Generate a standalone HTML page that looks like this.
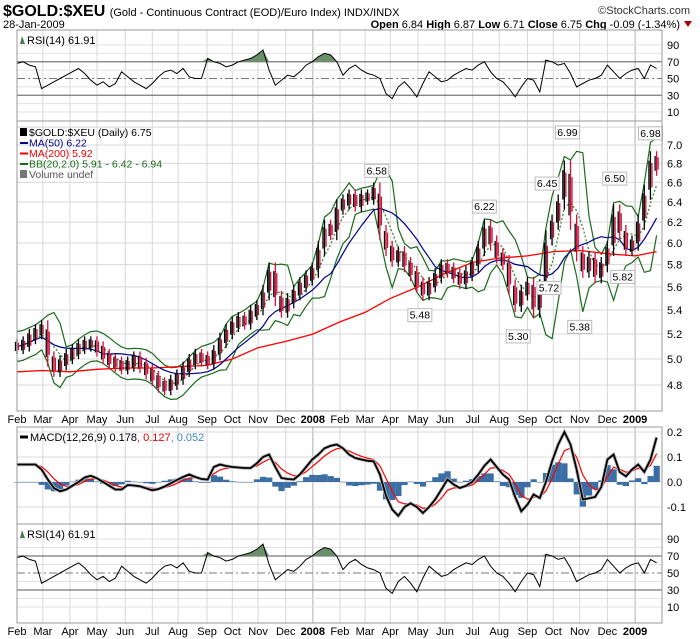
<!DOCTYPE html>
<html><head><meta charset="utf-8"><style>
body{margin:0;background:#fff;}
svg{display:block;font-family:"Liberation Sans",sans-serif;}
</style></head><body>
<svg id="c" width="700" height="639" viewBox="0 0 700 639" xmlns="http://www.w3.org/2000/svg">
<text x="3" y="16" font-size="16" font-weight="bold">$GOLD:$XEU <tspan font-size="11" font-weight="normal">(Gold - Continuous Contract (EOD)/Euro Index) INDX/INDX</tspan></text>
<text x="690" y="14" font-size="11" text-anchor="end" fill="#333">©StockCharts.com</text>
<text x="3" y="28" font-size="11">28-Jan-2009</text>
<text x="680" y="28" font-size="11" text-anchor="end"><tspan font-weight="bold">Open</tspan> 6.84 <tspan font-weight="bold">High</tspan> 6.87 <tspan font-weight="bold">Low</tspan> 6.71 <tspan font-weight="bold">Close</tspan> 6.75 <tspan font-weight="bold">Chg</tspan> -0.09 (-1.34%)</text>
<polygon points="684,21 692,21 688,27" fill="#a00"/>
<g id="layer"></g>
</svg>
<script>
const closes=[5.10,5.12,5.18,5.22,5.25, 5.00,4.92,4.97,5.02, 5.06,5.10,5.12,5.12, 5.08,5.02,4.98,4.96,4.94, 4.96,5.00,4.95,4.90, 4.85,4.80,4.78,4.82,4.86, 4.92,4.98,5.02,5.00, 4.98,5.05,5.15,5.22,5.28, 5.32,5.30,5.38,5.42, 5.55,5.75,5.50,5.40, 5.48,5.55,5.62,5.68,5.75, 5.95,6.15,6.10,6.35, 6.40,6.45,6.38,6.45, 6.45,6.52,6.10,5.95, 5.85,5.90,5.80,5.72,5.62, 5.55,5.62,5.70,5.78, 5.75,5.70,5.65,5.72,5.80, 5.95,6.15,6.00,5.88, 5.82,5.60,5.45,5.55,5.62, 5.40,5.60,6.05,6.20, 6.40,6.75,6.20,5.90, 5.75,5.85,5.70,5.80,5.95, 6.30,6.10,5.95,6.00, 6.20,6.50,6.85,6.75];
const ma200Weeks=[0,4.2,8.6,13,17.6,22,26.2,30.9,35,39.2,43.7,48.1,52.5,56.6,60.7,65.2,69.6,74.1,78.4,83,87.2,91.5,96,100.5,104];
const ma200Vals=[4.90,4.91,4.90,4.92,4.93,4.93,4.94,4.95,5.00,5.09,5.14,5.20,5.30,5.38,5.50,5.60,5.72,5.82,5.86,5.88,5.92,5.93,5.90,5.88,5.92];
const macdVals=[.07,.07,.07,.07,.05,.01,-.024,-.037,-.03,-.015,0,.018,.025,.015,0,-.015,-.03,-.03,-.012,-.014,-.017,-.025,-.033,-.028,-.018,-.005,.008,.02,.03,.02,.012,.01,.06,.07,.064,.06,.058,.056,.056,.075,.1,.11,.06,.016,.012,.01,.03,.06,.09,.11,.135,.145,.15,.135,.11,.096,.09,.085,.083,.03,-.055,-.11,-.135,-.1,-.085,-.1,-.124,-.1,-.07,-.03,.01,-.01,-.024,-.015,0,.03,.065,.09,.06,.03,.01,-.06,-.117,-.09,-.05,-.064,0,.083,.15,.2,.15,.05,-.07,-.065,-.06,-.02,.09,.11,.04,.023,.05,.07,.04,.09,.178];
const rsiVals=[68,70,66,64,38,42,46,50,54,58,62,56,48,42,46,40,44,58,52,46,42,38,44,52,58,60,56,62,52,50,50,74,70,68,64,66,70,72,74,78,84,60,42,48,54,52,58,66,70,76,80,78,70,54,62,66,60,56,54,50,32,26,40,46,38,28,44,58,52,46,48,54,58,62,60,66,70,58,50,46,38,28,40,50,48,34,72,70,66,68,56,40,44,48,50,54,66,58,50,56,60,62,50,66,62];
const monthWeeks=[0,4.2,8.6,13,17.6,22,26.2,30.9,35,39.2,43.7,48.1,52.5,56.6,60.7,65.2,69.6,74.1,78.4,83,87.2,91.5,96,100.5];
const monthLabels=["Feb","Mar","Apr","May","Jun","Jul","Aug","Sep","Oct","Nov","Dec","2008","Feb","Mar","Apr","May","Jun","Jul","Aug","Sep","Oct","Nov","Dec","2009"];
const priceTicks=[4.8,5.0,5.2,5.4,5.6,5.8,6.0,6.2,6.4,6.6,6.8,7.0];
const annWeeks=[58.5,65.5,76,81.5,86.5,86.2,89.5,91.5,97.2,98.5,103];
const annPrices=[6.58,5.48,6.22,5.30,5.72,6.45,6.99,5.38,6.50,5.82,6.98];
const annAbove=[1,0,1,0,0,1,1,0,1,0,1];
const macdTicks=[0.2,0.1,0.0,-0.1];
const rsiTicks=[90,70,50,30,10];

const L=17,R=662;
const P={rsi1:[30,121],main:[121,411],macd:[427,524],rsi2:[524,623]};
const xW=i=>L+i*6.15;
const yP=p=>145+636*Math.log(7/p);
const yM=v=>482-v*250;
const yR1=v=>45+(90-v)*0.8375;
const yR2=v=>539+(90-v)*0.85;
const NS="http://www.w3.org/2000/svg";
const layer=document.getElementById('layer');
function mk(t,a,parent){const e=document.createElementNS(NS,t);for(const k in a)e.setAttribute(k,a[k]);(parent||layer).appendChild(e);return e;}
function pathFrom(vals,xf,yf){return vals.map((v,i)=>(i?'L':'M')+xf(i).toFixed(1)+','+yf(v).toFixed(1)).join('');}

function panel(name,top,bot){
  const g=mk('g',{});
  
  
  mk('rect',{x:L,y:top,width:R-L,height:bot-top,fill:'#fff'},g);
  monthWeeks.forEach(w=>{const l=mk('line',{x1:xW(w),x2:xW(w),y1:top,y2:bot,stroke:(w==48.1||w==100.5)?'#b0b0b0':'#d8d8d8','stroke-width':1},g);});
  return g;
}
function frame(top,bot,name){const r=mk('rect',{x:L,y:top,width:R-L,height:bot-top,fill:'none',stroke:'#999'});}
function xLabels(y,name){const g=mk('g',{'font-size':11,'text-anchor':'middle'});
  monthWeeks.forEach((w,i)=>{const t=mk('text',{x:Math.max(xW(w),13),y:y,'font-weight':monthLabels[i].length==4?'bold':'normal'},g);t.textContent=monthLabels[i];});}

function rsiPanel(name,top,bot,yf){
  const g=panel(name,top,bot);
  [90,80,60,40,20,10].forEach(v=>mk('line',{x1:L,x2:R,y1:yf(v),y2:yf(v),stroke:'#e2e2e2'},g));
  [70,30].forEach(v=>mk('line',{x1:L,x2:R,y1:yf(v),y2:yf(v),stroke:'#777','stroke-width':1.3},g));
  mk('line',{x1:L,x2:R,y1:yf(50),y2:yf(50),stroke:'#777','stroke-dasharray':'8,3,2,3'},g);
  let fp='';
  for(let i=0;i<rsiVals.length-1;i++){const a=rsiVals[i],b=rsiVals[i+1];if(a>70||b>70){const x1=xW(i),x2=xW(i+1);const ca=Math.max(a,70),cb=Math.max(b,70);fp+=`M${x1},${yf(70)}L${x1},${yf(ca)}L${x2},${yf(cb)}L${x2},${yf(70)}Z`;}}
  const f=mk('path',{d:fp,fill:'#6b8f6b'},g);
  const ln=mk('path',{d:pathFrom(rsiVals,xW,yf),fill:'none',stroke:'#000','stroke-width':1},g);
  
  const tg=mk('g',{'font-size':11},g);
  rsiTicks.forEach(v=>{const t=mk('text',{x:667,y:yf(v)+4},tg);t.textContent=v;});
  mk('polygon',{points:`${20},${top+14} ${22},${top+6} ${25},${top+14}`,fill:'#4a7a4a'},g);
  const lb=mk('text',{x:27,y:top+14,'font-size':11},g);lb.textContent='RSI(14) 61.91';
  frame(top,bot,name);
}
rsiPanel('rsi-top',P.rsi1[0],P.rsi1[1],yR1);

(function(){
  const [top,bot]=P.main;
  const g=panel('price',top,bot);
  [4.6,4.8,5.0,5.2,5.4,5.6,5.8,6.0,6.2,6.4,6.6,6.8,7.0,7.2].forEach(p=>{const y=yP(p);if(y>top&&y<bot)mk('line',{x1:L,x2:R,y1:y,y2:y,stroke:'#d8d8d8'},g);});
  const tg=mk('g',{'font-size':11},g);
  priceTicks.forEach(p=>{const t=mk('text',{x:667,y:yP(p)+4},tg);t.textContent=p.toFixed(1);});
  const mid=[],up=[],lo=[],ma50=[];
  closes.forEach((c,i)=>{const w=closes.slice(Math.max(0,i-3),i+1);const m=w.reduce((a,b)=>a+b,0)/w.length;const sd=Math.sqrt(w.reduce((a,b)=>a+(b-m)*(b-m),0)/w.length);mid.push(m);up.push(m+2*Math.max(sd,0.06));lo.push(m-2*Math.max(sd,0.06));
    const w2=closes.slice(Math.max(0,i-9),i+1);ma50.push(w2.reduce((a,b)=>a+b,0)/w2.length);});
  const bu=mk('path',{d:pathFrom(up,xW,yP),fill:'none',stroke:'#1a6b1a','stroke-width':1.2},g);
  const bl=mk('path',{d:pathFrom(lo,xW,yP),fill:'none',stroke:'#1a6b1a','stroke-width':1.2},g);
  const bm=mk('path',{d:pathFrom(mid,xW,yP),fill:'none',stroke:'#3a8a3a','stroke-width':1.3,'stroke-dasharray':'2,2'},g);
  const m2=mk('path',{d:ma200Vals.map((v,i)=>(i?'L':'M')+xW(ma200Weeks[i]).toFixed(1)+','+yP(v).toFixed(1)).join(''),fill:'none',stroke:'#f00','stroke-width':1.3},g);
  const m5=mk('path',{d:pathFrom(ma50,xW,yP),fill:'none',stroke:'#00008b','stroke-width':1.2},g);
  const bg=mk('g',{},g);
  closes.forEach((c,i)=>{const o=i?closes[i-1]:c;const hi=Math.max(o,c)*1.012,lw=Math.min(o,c)*0.988;const x=xW(i);
    const col=c<o?'#d0103a':'#000';
    [[-1.5,'#000',0.2],[0,col,0],[1.5,'#d0103a',0.25]].forEach(([dx,cl,sh])=>{const b=mk('line',{x1:x+dx,x2:x+dx,y1:yP(hi-(hi-lw)*sh),y2:yP(lw+(hi-lw)*sh),stroke:cl,'stroke-width':1.3},bg);});
  });
  annWeeks.forEach((w,i)=>{const x=xW(w),p=annPrices[i];const y=annAbove[i]?yP(p)-12:yP(p)+16;
    const ag=mk('g',{},g);
    mk('rect',{x:x-12,y:y-8,width:24,height:13,fill:'#fff',stroke:'#bbb'},ag);
    const t=mk('text',{x:x,y:y+2,'font-size':10.5,'text-anchor':'middle'},ag);t.textContent=p.toFixed(2);});
  const lg=mk('g',{'font-size':10.5},g);
  const items=[['$GOLD:$XEU (Daily) 6.75','#000'],['MA(50) 6.22','#00008b'],['MA(200) 5.92','#e00'],['BB(20,2.0) 5.91 - 6.42 - 6.94','#1a6b1a'],['Volume undef','#555']];
  items.forEach((it,i)=>{const y=top+15+i*10.5;if(i>0&&i<4)mk('line',{x1:20,x2:28,y1:y-3.5,y2:y-3.5,stroke:it[1],'stroke-width':2},lg);
    else mk('rect',{x:20,y:y-8,width:7,height:8,fill:i==0?'#000':'#777'},lg);
    const t=mk('text',{x:29,y:y,fill:it[1]},lg);t.textContent=it[0];});
  frame(top,bot,'price');
})();
xLabels(423,'x-axis-labels-main');

(function(){
  const [top,bot]=P.macd;
  const g=panel('macd',top,bot);
  [0.2,0.1,0,-0.1].forEach(v=>mk('line',{x1:L,x2:R,y1:yM(v),y2:yM(v),stroke:'#d8d8d8'},g));
  const sig=[];let s=macdVals[0];macdVals.forEach(v=>{s=s+0.42*(v-s);sig.push(s);});
  const hg=mk('g',{},g);
  macdVals.forEach((v,i)=>{const h=v-sig[i];const y0=yM(0),y1=yM(h);const r=mk('rect',{x:xW(i)-3,y:Math.min(y0,y1),width:6.2,height:Math.max(0.5,Math.abs(y1-y0)),fill:'#3a6ea5'},hg);});
  const sl=mk('path',{d:pathFrom(sig,xW,yM),fill:'none',stroke:'#f00','stroke-width':1.2},g);
  mk('path',{d:pathFrom(macdVals,xW,yM),fill:'none',stroke:'#bbb','stroke-width':3.5},g);
  const ml=mk('path',{d:pathFrom(macdVals,xW,yM),fill:'none',stroke:'#000','stroke-width':1.8},g);
  const tg=mk('g',{'font-size':11},g);
  macdTicks.forEach(v=>{const t=mk('text',{x:667,y:yM(v)+4},tg);t.textContent=v.toFixed(1);});
  mk('line',{x1:20,x2:28,y1:top+10,y2:top+10,stroke:'#000','stroke-width':3},g);
  const lb=mk('text',{x:30,y:top+14,'font-size':11},g);lb.innerHTML='MACD(12,26,9) 0.178<tspan fill="#e00">, 0.127</tspan><tspan fill="#3a8ac0">, 0.052</tspan>';
  
  frame(top,bot,'macd');
})();

rsiPanel('rsi-bottom',P.rsi2[0],P.rsi2[1],yR2);
xLabels(635,'x-axis-labels-bottom');
</script>
</body></html>
